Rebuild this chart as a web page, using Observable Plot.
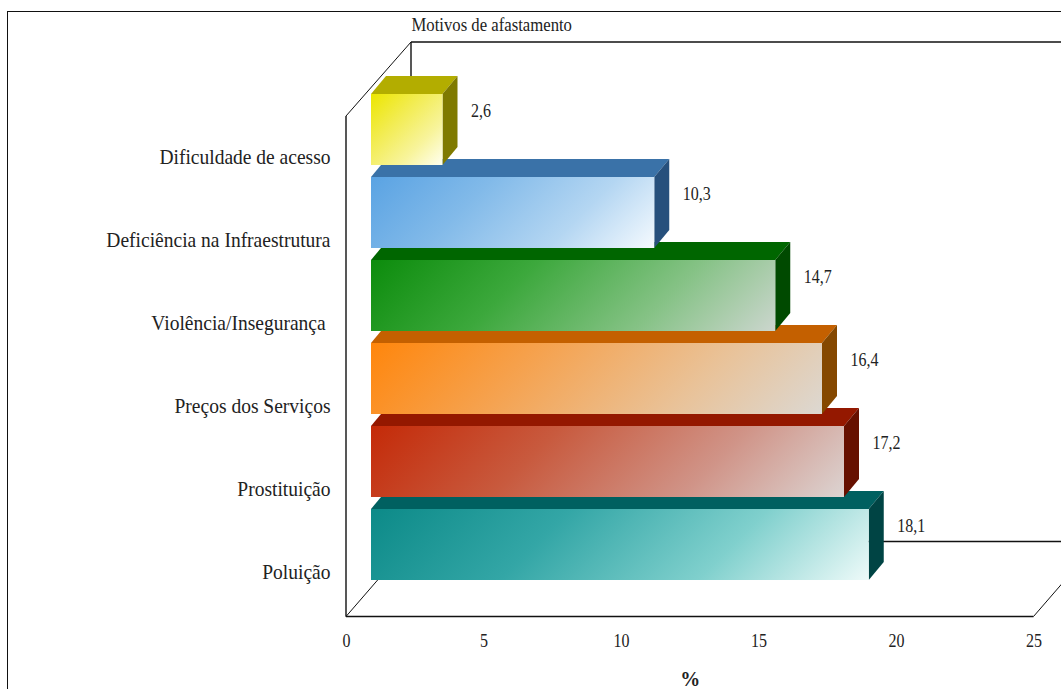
<!DOCTYPE html>
<html>
<head>
<meta charset="utf-8">
<script src="https://cdn.jsdelivr.net/npm/d3@7"></script>
<script src="https://cdn.jsdelivr.net/npm/@observablehq/plot@0.6"></script>
<style>
html,body{margin:0;padding:0;background:#fff;width:1061px;height:689px;overflow:hidden}
#frame{position:absolute;left:7px;top:11px;right:0;bottom:0;border-left:1.5px solid #111;border-top:1.5px solid #111;pointer-events:none}
#chart{position:absolute;left:0;top:0}
svg{display:block}
</style>
</head>
<body>
<div id="frame"></div>
<div id="chart"></div>
<script>
const categories = ["Dificuldade de acesso","Deficiência na Infraestrutura","Violência/Insegurança\u00a0","Preços dos Serviços","Prostituição","Poluição"];
const values = [2.6,10.3,14.7,16.4,17.2,18.1];
const labels = ["2,6","10,3","14,7","16,4","17,2","18,1"];
const startColors = ["#ece600","#5aa3e3","#0c8c0c","#ff860c","#c42a08","#0c8a88"];
const midColors   = ["#f2ec50","#82bae9","#3ca83c","#f5a351","#c85a3e","#33a6a6"];
const lateColors  = ["#f8f49c","#b4d6f2","#85c285","#e9c298","#d09488","#80d0cd"];
const endColors   = ["#fffff0","#f5fafe","#ccd6ce","#dcd8d2","#dcd4d2","#eefaf9"];
const topColors   = ["#b3ad00","#3a72a8","#006600","#c46000","#941800","#006060"];
const sideColors  = ["#7f7a00","#27507c","#004a00","#854800","#661000","#004444"];
const xTicks = [0,5,10,15,20,25];
const rows = categories.map((c,i)=>({c,v:values[i],label:labels[i],i}));
const drawOrder = rows.slice().reverse();

const font = "'Liberation Serif','Times New Roman',serif";
const offX = 25, depthX = 15, depthY = 18;
const ns = "http://www.w3.org/2000/svg";
const el = (n,a,p)=>{const e=document.createElementNS(ns,n);for(const k in a)e.setAttribute(k,a[k]);if(p)p.appendChild(e);return e;};

function walls(index, {x}, values, dims){
  const g = el("g",{fill:"none",stroke:"#111"});
  const x0 = x(0), x1 = x(25), fy = 616.5, wy = 116, ddx = 65, ddy = 75;
  const seg=(a,b,c,d,w)=>el("line",{x1:a,y1:b,x2:c,y2:d,"stroke-width":w},g);
  seg(x0,wy,x0,fy,1.4);
  seg(x0,fy,x1,fy,1.4);
  seg(x0,fy,x0+ddx,fy-ddy,1);
  seg(x1,fy,x1+ddx,fy-ddy,1);
  seg(x0,wy,x0+ddx,wy-ddy+1,1);
  seg(x0+ddx,wy-ddy+1,x0+ddx,fy-ddy,1.4);
  seg(x0+ddx,wy-ddy+1,x1+ddx,wy-ddy+1,1.4);
  seg(x0+ddx,fy-ddy,x1+ddx,fy-ddy,1.4);
  return g;
}

function faces(row){
  return (index,{x,y})=>{
    const g = el("g",{});
    const l = x(0)+offX, r = x(row.v)+offX, t = y(row.c), b = t+y.bandwidth();
    el("polygon",{points:`${l},${t} ${l+depthX},${t-depthY} ${r+depthX},${t-depthY} ${r},${t}`,fill:topColors[row.i]},g);
    el("polygon",{points:`${r},${t} ${r+depthX},${t-depthY} ${r+depthX},${b-depthY} ${r},${b}`,fill:sideColors[row.i]},g);
    return g;
  };
}

function gradients(index,{x,y}){
  const defs = el("defs",{});
  rows.forEach(d=>{
    const l=x(0), t=y(d.c), w=x(d.v)-x(0), h=y.bandwidth(), s=(w+h)/2;
    const gr=el("linearGradient",{id:"g"+d.i,gradientUnits:"userSpaceOnUse",x1:l,y1:t,x2:l+s,y2:t+s},defs);
    el("stop",{offset:"0%","stop-color":startColors[d.i]},gr);
    el("stop",{offset:"35%","stop-color":midColors[d.i]},gr);
    el("stop",{offset:"70%","stop-color":lateColors[d.i]},gr);
    el("stop",{offset:"100%","stop-color":endColors[d.i]},gr);
  });
  return defs;
}

const barMarks = drawOrder.flatMap(d=>[
  faces(d),
  Plot.barX([d],{x1:0,x2:"v",y:"c",dx:offX,fill:`url(#g${d.i})`})
]);

const plot = Plot.plot({
  width:1061,height:689,
  marginLeft:346,marginRight:27.5,marginTop:42,marginBottom:72.5,
  style:{fontFamily:font,background:"transparent",color:"#222",overflow:"visible"},
  x:{domain:[0,25],range:[346,1033.5]},
  y:{domain:categories,range:[80.6,593.4],padding:0.1487},
  marks:[
    gradients,
    walls,
    ...barMarks,
    Plot.text(rows,{x:"v",y:"c",text:"label",dx:offX+28,dy:-19.5,textAnchor:"start",fontSize:19,fill:"#222",fontFamily:font,className:"squeeze16"}),
    Plot.axisX({ticks:xTicks,tickSize:0,tickPadding:16,tickFormat:d=>String(d),fontSize:19,label:null,anchor:"bottom",fill:"#222",className:"squeeze16"}),
    Plot.axisY({tickSize:0,tickPadding:16,dy:27,fontSize:22,label:null,anchor:"left",fill:"#222",className:"squeeze19"}),
    Plot.text(["Motivos de afastamento"],{frameAnchor:"top-left",dx:65,dy:-18,lineAnchor:"middle",textAnchor:"start",fontSize:19.5,fill:"#222",fontFamily:font,text:d=>d,className:"squeezeT"}),
    Plot.text(["%"],{frameAnchor:"bottom",dy:63,lineAnchor:"middle",fontSize:20,fontWeight:"bold",fill:"#222",fontFamily:font,text:d=>d})
  ]
});
document.getElementById("chart").appendChild(plot);

// The reference text is narrower than its height: condense glyphs horizontally
const squeeze = (sel,ratio)=>plot.querySelectorAll(sel+" text").forEach(t=>{
  const len=t.getComputedTextLength();
  t.setAttribute("textLength",len*ratio);
  t.setAttribute("lengthAdjust","spacingAndGlyphs");
});
squeeze(".squeeze16",16/19);
squeeze(".squeeze19",19.5/22);
squeeze(".squeezeT",16.7/19.5);
</script>
</body>
</html>
